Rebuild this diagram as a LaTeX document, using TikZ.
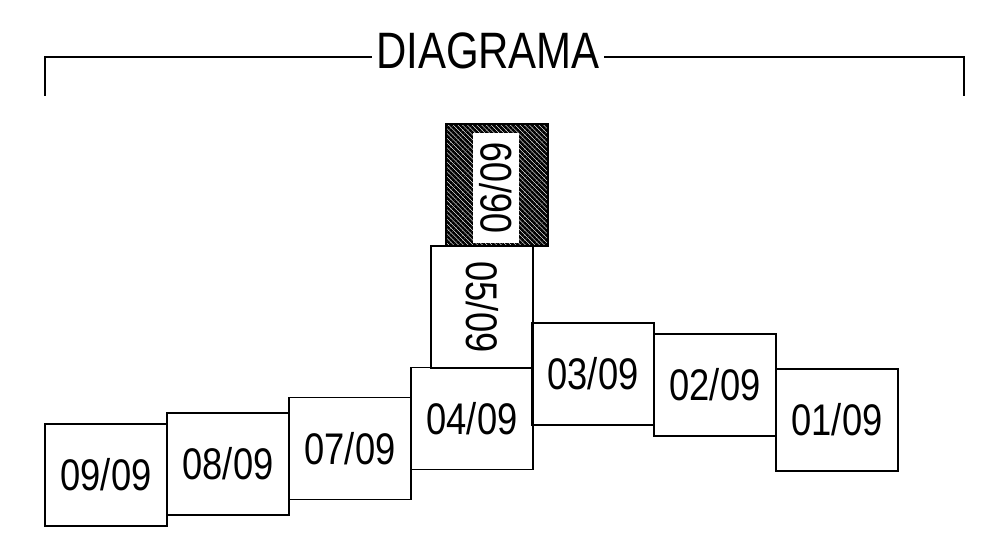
\documentclass[tikz,border=0pt]{standalone}
\usepackage{fontspec}
\setmainfont{Liberation Sans}[FakeStretch=0.82]
\usepackage{tikz}
\usetikzlibrary{patterns.meta}

\begin{document}
\begin{tikzpicture}[
    x = 0.025cm, y = -0.025cm,
    d0/.style = {line width = 1.3pt},
    bx/.style = {d0, draw, minimum width = 3.05cm, minimum height = 2.55cm, inner sep = 0pt, font = \fontsize{31.5}{36}\selectfont},
    bv/.style = {bx, minimum width = 2.55cm, minimum height = 3.05cm},
    hatch/.style = {pattern = {Lines[angle=-45, distance=2.4pt, line width=1.9pt]}},
]
\useasboundingbox (0,0) rectangle (988,543);

\node[font = \fontsize{36.4}{40}\selectfont, inner xsep = 0.1cm] (titulo) at (488,51) {DIAGRAMA};
\coordinate (esq) at (45,57);
\coordinate (dir) at (964,57);
\draw[d0] (45,96) -- (esq) -- (titulo.west |- esq);
\draw[d0] (964,96) -- (dir) -- (titulo.east |- dir);

\node[bx] (d09) at (106,475) {09/09};
\node[bx] (d08) at (228,464) {08/09};
\node[bx] (d07) at (350,448.5) {07/09};
\node[bx] (d04) at (472,418.5) {04/09};
\node[bx, rotate = -90] (d05) at (482,307) {05/09};
\node[bv, hatch] (d06) at (497,185) {};
\node[fill = white, rotate = 90, inner xsep = 0.25cm, inner ysep = 0.175cm, font = \fontsize{31.5}{36}\selectfont] (t06) at (496,188) {06/09};
\node[bx] (d03) at (593,374) {03/09};
\node[bx] (d02) at (715,385) {02/09};
\node[bx] (d01) at (837,420) {01/09};

\end{tikzpicture}
\end{document}
